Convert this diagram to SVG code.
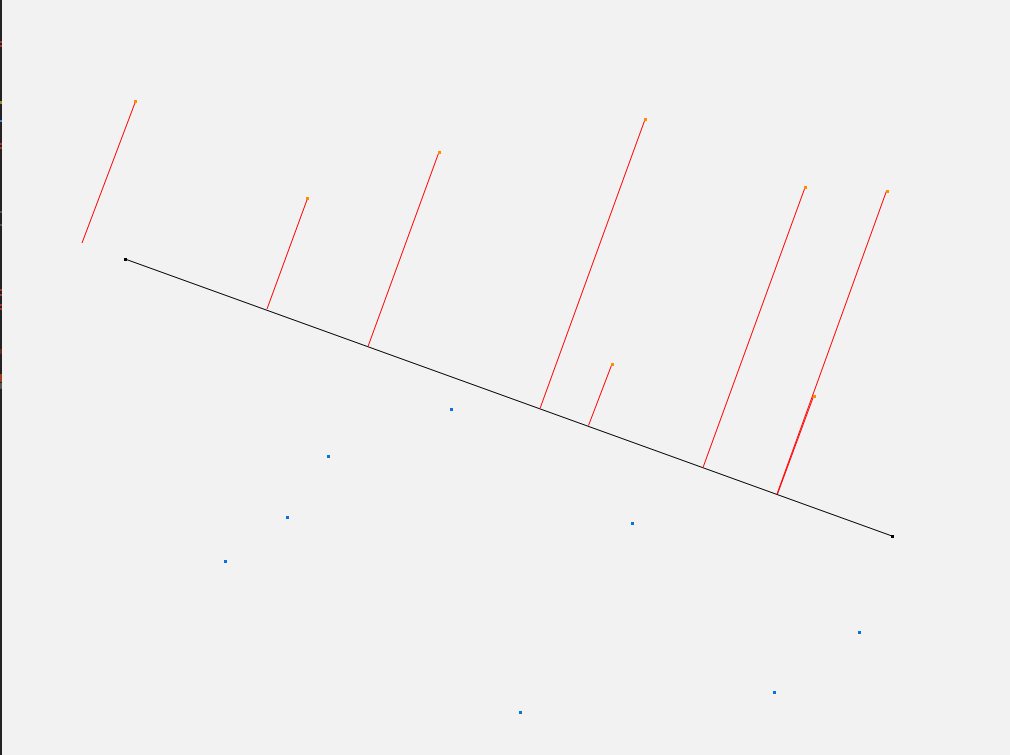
<svg xmlns="http://www.w3.org/2000/svg" width="1010" height="755" viewBox="0 0 1010 755">
<style>
.base{stroke:#000;stroke-width:1;fill:none}
.proj{stroke:#ff0000;stroke-width:1;fill:none}
.end{fill:#000}
.tip{fill:#ff8c00}
.pt{fill:#0a6fe0}
</style>
<rect width="1010" height="755" fill="#f2f2f2"/>
<g id="edge">
<rect x="0" y="0" width="2" height="755" fill="#222"/>
<rect x="0" y="41" width="2" height="2" fill="#a33"/>
<rect x="0" y="45" width="2" height="2" fill="#a33"/>
<rect x="0" y="101" width="2" height="3" fill="#9a8a30"/>
<rect x="0" y="120" width="2" height="2" fill="#3a8ae0"/>
<rect x="0" y="143" width="2" height="2" fill="#a33"/>
<rect x="0" y="147" width="2" height="2" fill="#a33"/>
<rect x="0" y="211" width="2" height="2" fill="#555"/>
<rect x="0" y="224" width="2" height="2" fill="#555"/>
<rect x="0" y="289" width="2" height="2" fill="#a33"/>
<rect x="0" y="294" width="2" height="2" fill="#a33"/>
<rect x="0" y="304" width="2" height="2" fill="#a33"/>
<rect x="0" y="308" width="2" height="2" fill="#a33"/>
<rect x="0" y="349" width="2" height="5" fill="#6a2a22"/>
<rect x="0" y="374" width="2" height="8" fill="#9a4020"/>
<rect x="0" y="383" width="2" height="6" fill="#555"/>
</g>
<g id="connectors">
<line class="base" x1="125" y1="259" x2="892" y2="536"/>
<line class="proj" x1="82" y1="243" x2="135.5" y2="101.5"/>
<line class="proj" x1="267" y1="309" x2="307.5" y2="198.5"/>
<line class="proj" x1="368" y1="346.5" x2="439" y2="152"/>
<line class="proj" x1="540" y1="408.5" x2="645" y2="119.5"/>
<line class="proj" x1="588.5" y1="425.5" x2="612" y2="364"/>
<line class="proj" x1="703" y1="467.5" x2="805" y2="187.5"/>
<line class="proj" x1="777" y1="494" x2="886.5" y2="191"/>
<line class="proj" x1="777.5" y1="494" x2="813.5" y2="396.5"/>
</g>
<g id="endpoints">
<rect class="end" x="124" y="258" width="3" height="3"/>
<rect class="end" x="891" y="535" width="3" height="3"/>
</g>
<g id="tips">
<rect class="tip" x="134" y="100" width="3" height="3"/>
<rect class="tip" x="306" y="197" width="3" height="3"/>
<rect class="tip" x="438" y="151" width="3" height="3"/>
<rect class="tip" x="644" y="118" width="3" height="3"/>
<rect class="tip" x="611" y="363" width="3" height="3"/>
<rect class="tip" x="804" y="186" width="3" height="3"/>
<rect class="tip" x="886" y="190" width="3" height="3"/>
<rect class="tip" x="813" y="395" width="3" height="3"/>
</g>
<g id="points">
<rect class="pt" x="450" y="408" width="3" height="3"/>
<rect class="pt" x="327" y="455" width="3" height="3"/>
<rect class="pt" x="286" y="516" width="3" height="3"/>
<rect class="pt" x="224" y="560" width="3" height="3"/>
<rect class="pt" x="631" y="522" width="3" height="3"/>
<rect class="pt" x="858" y="631" width="3" height="3"/>
<rect class="pt" x="773" y="691" width="3" height="3"/>
<rect class="pt" x="519" y="711" width="3" height="3"/>
</g>
</svg>
